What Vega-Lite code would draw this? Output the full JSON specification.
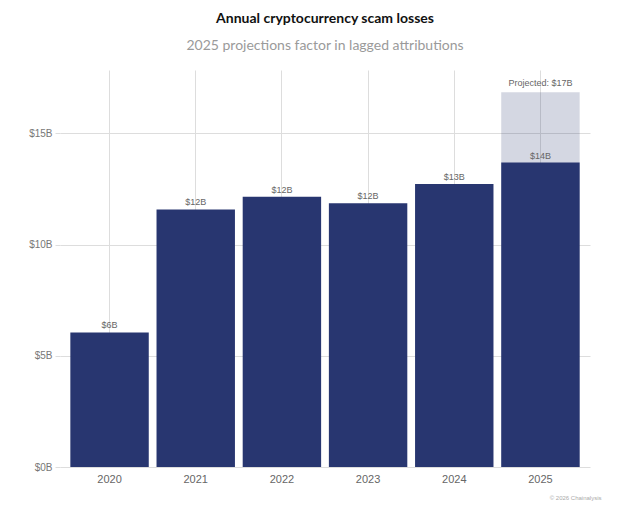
{
  "$schema": "https://vega.github.io/schema/vega-lite/v6.json",
  "autosize": {"type": "fit", "contains": "padding"},
  "width": 624,
  "height": 526,
  "padding": {"left": 28, "right": 34, "top": 12, "bottom": 26},
  "background": "white",
  "config": {"view": {"stroke": null}},
  "title": {
    "text": "Annual cryptocurrency scam losses",
    "subtitle": "2025 projections factor in lagged attributions",
    "anchor": "middle",
    "font": "Lato",
    "fontSize": 14,
    "fontWeight": "bold",
    "color": "#111111",
    "subtitleFont": "Lato",
    "subtitleFontSize": 14,
    "subtitleColor": "#9a9a9a",
    "subtitlePadding": 13,
    "offset": 17
  },
  "data": {
    "values": [
      {"year": "2020", "value": 6.05, "label": "$6B", "projected": null, "plabel": null},
      {"year": "2021", "value": 11.58, "label": "$12B", "projected": null, "plabel": null},
      {"year": "2022", "value": 12.15, "label": "$12B", "projected": null, "plabel": null},
      {"year": "2023", "value": 11.86, "label": "$12B", "projected": null, "plabel": null},
      {"year": "2024", "value": 12.72, "label": "$13B", "projected": null, "plabel": null},
      {"year": "2025", "value": 13.69, "label": "$14B", "projected": 16.85, "plabel": "Projected: $17B"}
    ]
  },
  "encoding": {
    "x": {
      "field": "year",
      "type": "nominal",
      "scale": {"paddingInner": 0.09, "paddingOuter": 0.12},
      "axis": {
        "title": "© 2026 Chainalysis",
        "titleAnchor": "end",
        "titleAlign": "right",
        "titleX": 541,
        "titleFontSize": 6,
        "titleFontWeight": "normal",
        "titleColor": "#aaaaaa",
        "titlePadding": 10,
        "titleFont": "Liberation Sans",
        "labelAngle": 0,
        "labelFont": "Liberation Sans",
        "labelFontSize": 11,
        "labelColor": "#666666",
        "labelPadding": 6,
        "ticks": false,
        "domain": false,
        "grid": true,
        "gridColor": "#dddddd",
        "bandPosition": 0.5
      }
    }
  },
  "layer": [
    {
      "transform": [{"filter": "datum.projected != null"}],
      "mark": {"type": "bar", "color": "#283670", "opacity": 0.2},
      "encoding": {
        "y": {
          "field": "projected",
          "type": "quantitative",
          "scale": {"domain": [0, 17.85], "nice": false},
          "axis": {
            "title": null,
            "values": [0, 5, 10, 15],
            "labelExpr": "'$' + datum.value + 'B'",
            "labelFont": "Liberation Sans",
            "labelFontSize": 10,
            "labelColor": "#777777",
            "domain": false,
            "tickColor": "#dddddd",
            "tickSize": 5,
            "gridColor": "#dddddd",
            "labelPadding": 3
          }
        }
      }
    },
    {
      "mark": {"type": "bar", "color": "#283670"},
      "encoding": {"y": {"field": "value", "type": "quantitative"}}
    },
    {
      "mark": {"type": "text", "dy": -2, "baseline": "bottom", "font": "Liberation Sans", "fontSize": 9, "color": "#666666"},
      "encoding": {
        "y": {"field": "value", "type": "quantitative"},
        "text": {"field": "label"}
      }
    },
    {
      "transform": [{"filter": "datum.projected != null"}],
      "mark": {"type": "text", "dy": -4, "baseline": "bottom", "font": "Liberation Sans", "fontSize": 9, "color": "#666666"},
      "encoding": {
        "y": {"field": "projected", "type": "quantitative"},
        "text": {"field": "plabel"}
      }
    }
  ]
}
